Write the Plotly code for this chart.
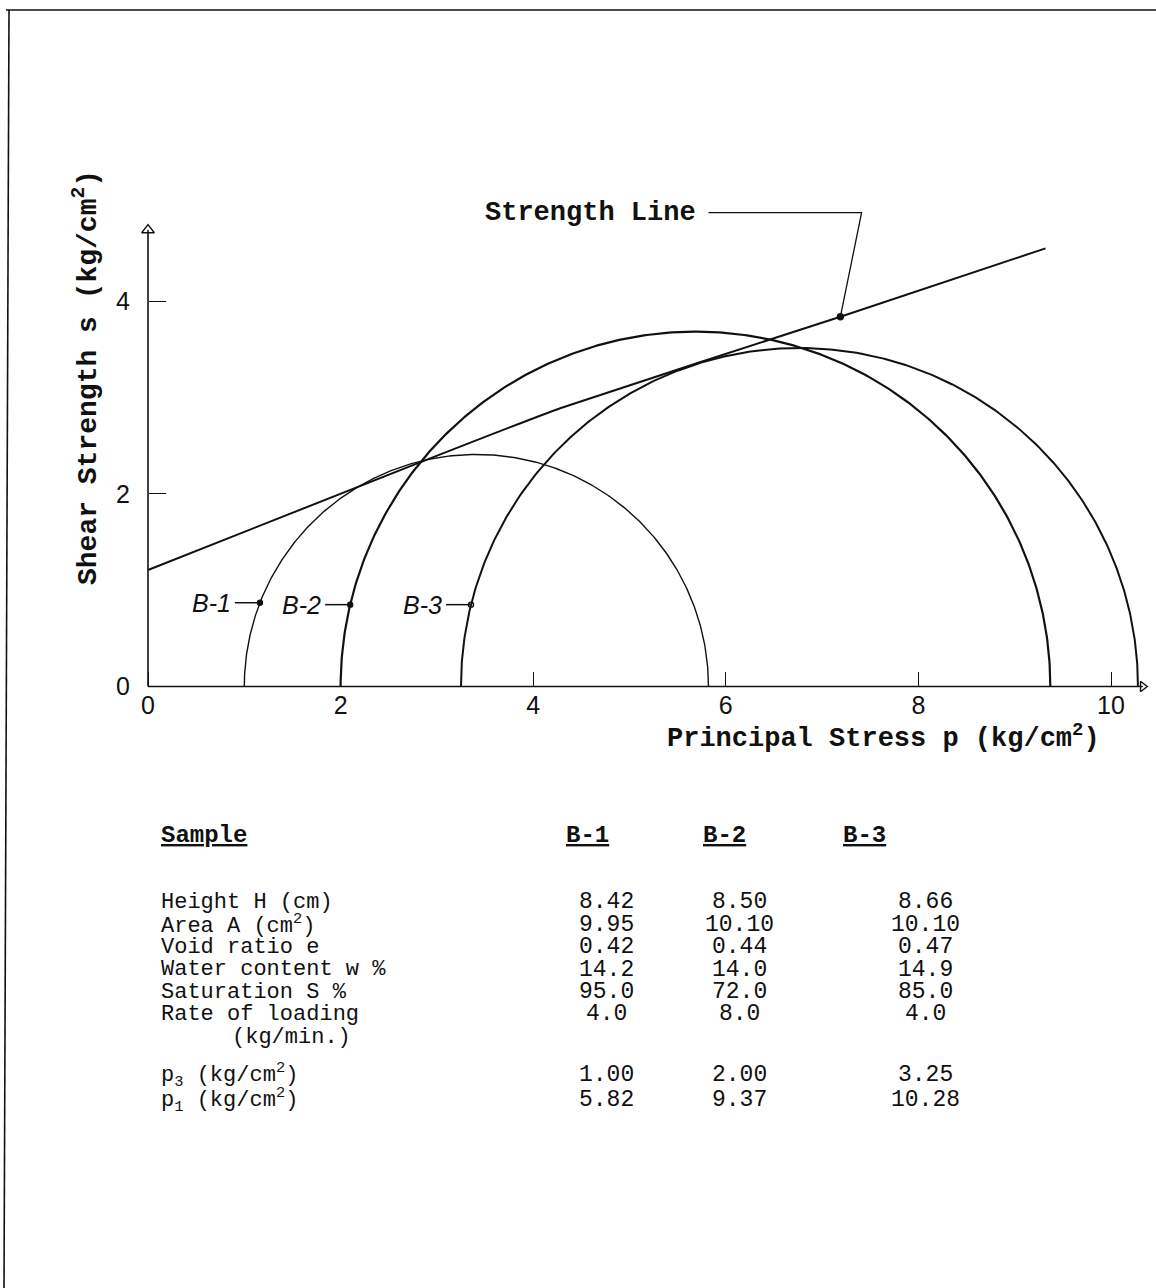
import numpy as np
import plotly.graph_objects as go

# ---------------- data ----------------
samples = ["B-1", "B-2", "B-3"]
p3 = [1.00, 2.00, 3.25]          # minor principal stress (kg/cm2)
p1 = [5.82, 9.37, 10.28]         # major principal stress (kg/cm2)

row_labels = ["Height H (cm)", "Area A (cm<sup>2</sup>)", "Void ratio e",
              "Water content w %", "Saturation S %", "Rate of loading",
              "p<sub>3</sub> (kg/cm<sup>2</sup>)", "p<sub>1</sub> (kg/cm<sup>2</sup>)"]
height_H = ["8.42", "8.50", "8.66"]
area_A = ["9.95", "10.10", "10.10"]
void_ratio = ["0.42", "0.44", "0.47"]
water_content = ["14.2", "14.0", "14.9"]
saturation = ["95.0", "72.0", "85.0"]
rate_loading = ["4.0", "8.0", "4.0"]
p3_txt = ["1.00", "2.00", "3.25"]
p1_txt = ["5.82", "9.37", "10.28"]

# strength envelope
env_p = [0.0, 2.83, 4.28, 7.19, 9.32]
env_s = [1.21, 2.33, 2.89, 3.84, 4.55]

x_ticks = [0, 2, 4, 6, 8, 10]
y_ticks = [0, 2, 4]
label_s = [0.87, 0.85, 0.85]     # height of the B-labels' leader dots

# ---------------- layout constants ----------------
W, H = 1156, 1288
S = 96.3            # pixels per kg/cm2
X0, Y0 = 148, 686.5 # origin in pixels
MONO = "Liberation Mono"
INK = "#111111"


def px(x):
    return x / W


def py(y):
    return 1 - y / H


def line_trace(x, y, width, **kw):
    return go.Scatter(x=x, y=y, mode="lines", line=dict(color=INK, width=width, **kw),
                      hoverinfo="skip", showlegend=False)


def marker_trace(x, y, size, symbol="circle"):
    return go.Scatter(x=x, y=y, mode="markers",
                      marker=dict(color=INK, size=size, symbol=symbol,
                                  line=dict(color=INK, width=1.4)),
                      hoverinfo="skip", showlegend=False, cliponaxis=False)


fig = go.Figure()

# axis lines with arrowheads
Y_TOP, X_END = 4.74, 10.33
fig.add_trace(line_trace([0, 0], [0, Y_TOP], 1.6))
fig.add_trace(marker_trace([0], [Y_TOP], 11, "triangle-up-open"))
fig.add_trace(line_trace([0, X_END], [0, 0], 1.6))
fig.add_trace(marker_trace([X_END], [0], 9, "triangle-right-open"))

# Mohr circles
widths = [1.4, 2.2, 2.0]
theta = np.linspace(0, np.pi, 400)
for s3, s1, w in zip(p3, p1, widths):
    c, r = (s1 + s3) / 2, (s1 - s3) / 2
    fig.add_trace(line_trace(c + r * np.cos(theta), r * np.sin(theta), w))

# strength line
fig.add_trace(line_trace(env_p, env_s, 2, shape="spline", smoothing=0.4))

# B labels leader lines and dots
dot_symbols = ["circle", "circle", "circle-open"]
for name, s3, s1, ys, sym in zip(samples, p3, p1, label_s, dot_symbols):
    c, r = (s1 + s3) / 2, (s1 - s3) / 2
    xd = c - np.sqrt(r * r - ys * ys)
    fig.add_trace(line_trace([xd - 0.26, xd], [ys, ys], 1.5))
    fig.add_trace(marker_trace([xd], [ys], 5, sym))
    fig.add_annotation(x=xd - 0.29, y=ys, xref="x", yref="y", text=name,
                       showarrow=False, xanchor="right", yanchor="middle",
                       borderpad=0,
                       font=dict(family="Liberation Sans", size=25, color=INK,
                                 style="italic"))

# "Strength Line" leader
lead_p = [5.82, 7.41, 7.19]
lead_s = [4.92, 4.92, 3.84]
fig.add_trace(line_trace(lead_p, lead_s, 1.3))
fig.add_trace(marker_trace([lead_p[-1]], [lead_s[-1]], 6))
fig.add_annotation(x=5.7, y=4.92, xref="x", yref="y",
                   text="<b>Strength Line</b>", showarrow=False,
                   xanchor="right", yanchor="middle", borderpad=0,
                   font=dict(family=MONO, size=27, color=INK))

# axis titles
fig.add_annotation(x=px(1101), y=py(736), xref="paper", yref="paper",
                   text="<b>Principal Stress p (kg/cm<sup>2</sup>)</b>",
                   showarrow=False, xanchor="right", yanchor="middle", borderpad=0,
                   font=dict(family=MONO, size=27, color=INK))
fig.add_annotation(x=px(86), y=py(378), xref="paper", yref="paper",
                   text="<b>Shear Strength s (kg/cm<sup>2</sup>)</b>",
                   showarrow=False, textangle=-90, xanchor="center", yanchor="middle",
                   borderpad=0,
                   font=dict(family=MONO, size=28, color=INK))

# ---------------- table ----------------
col_hdr_x = [587, 724, 864]
col_val_x = [606, 739, 925]
fig.add_annotation(x=px(160), y=py(836), xref="paper", yref="paper",
                   text="<b><u>Sample</u></b>", showarrow=False,
                   xanchor="left", yanchor="middle", borderpad=0,
                   font=dict(family=MONO, size=24, color=INK))
for name, xx in zip(samples, col_hdr_x):
    fig.add_annotation(x=px(xx), y=py(836), xref="paper", yref="paper",
                       text="<b><u>" + name + "</u></b>", showarrow=False,
                       xanchor="center", yanchor="middle", borderpad=0,
                       font=dict(family=MONO, size=24, color=INK))

row_y = [902, 925, 947, 970, 992, 1014, 1075, 1100]
row_vals = [height_H, area_A, void_ratio, water_content, saturation,
            rate_loading, p3_txt, p1_txt]
for lab, yy, vals in zip(row_labels, row_y, row_vals):
    fig.add_annotation(x=px(160), y=py(yy), xref="paper", yref="paper",
                       text=lab, showarrow=False, xanchor="left", yanchor="middle",
                       borderpad=0,
                       font=dict(family=MONO, size=22, color=INK))
    for v, xx in zip(vals, col_val_x):
        fig.add_annotation(x=px(xx), y=py(yy), xref="paper", yref="paper",
                           text=v, showarrow=False, xanchor="center", yanchor="middle",
                           borderpad=0,
                           font=dict(family=MONO, size=23, color=INK))
fig.add_annotation(x=px(231), y=py(1037), xref="paper", yref="paper",
                   text="(kg/min.)", showarrow=False, xanchor="left", yanchor="middle",
                   borderpad=0,
                   font=dict(family=MONO, size=22, color=INK))

# page border
fig.add_shape(type="line", xref="paper", yref="paper",
              x0=px(9), y0=py(10), x1=px(4), y1=0,
              line=dict(color=INK, width=1.6))
fig.add_shape(type="line", xref="paper", yref="paper",
              x0=px(6), y0=py(10), x1=1, y1=py(10),
              line=dict(color=INK, width=1.6))

fig.update_layout(
    width=W, height=H, margin=dict(l=0, r=0, t=0, b=0),
    paper_bgcolor="white", plot_bgcolor="white", showlegend=False,
    xaxis=dict(domain=[0, 1], range=[-X0 / S, (W - X0) / S],
               anchor="free", position=py(Y0),
               tickvals=x_ticks, ticktext=[str(t) for t in x_ticks],
               ticks="inside", ticklen=15, tickwidth=1.3, tickcolor=INK,
               showline=False, showgrid=False, zeroline=False,
               ticklabelstandoff=1,
               tickfont=dict(family="Liberation Sans", size=25, color=INK)),
    yaxis=dict(domain=[0, 1], range=[(Y0 - H) / S, Y0 / S],
               anchor="free", position=px(X0),
               tickvals=y_ticks, ticktext=[str(t) for t in y_ticks],
               ticks="inside", ticklen=17, tickwidth=1.3, tickcolor=INK,
               showline=False, showgrid=False, zeroline=False,
               ticklabelstandoff=18,
               tickfont=dict(family="Liberation Sans", size=25, color=INK)),
)

fig.write_html("out.html")
